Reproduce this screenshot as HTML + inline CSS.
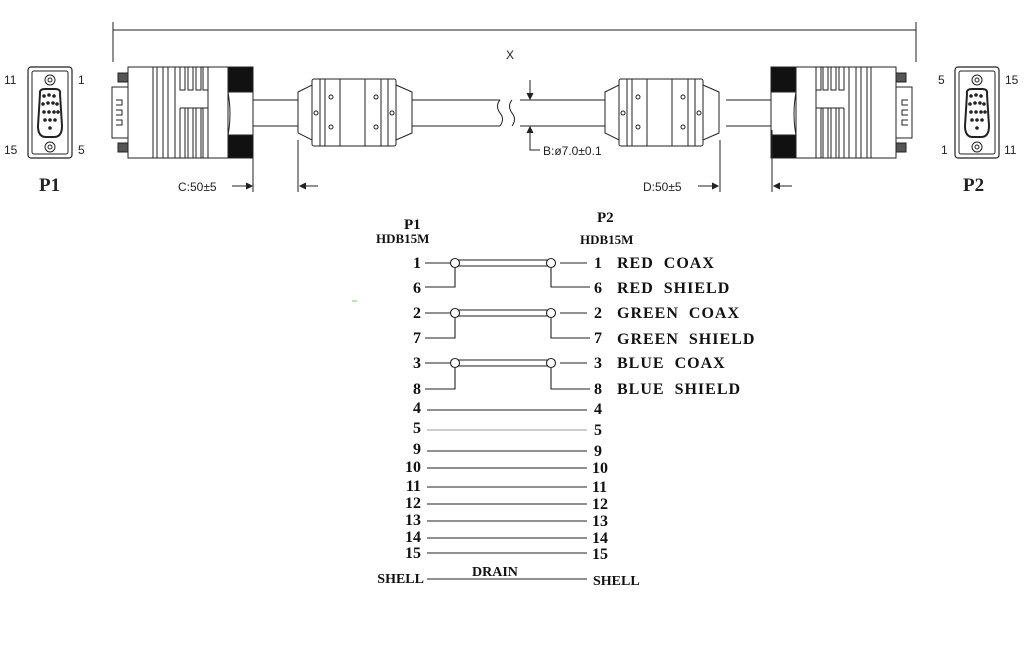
<!DOCTYPE html>
<html><head><meta charset="utf-8"><style>
html,body{margin:0;padding:0;background:#fff;}
svg{display:block;}
.s{font-family:"Liberation Sans",sans-serif;font-size:12px;fill:#222;}
.r{font-family:"Liberation Serif",serif;font-weight:bold;font-size:15px;fill:#111;}
</style></head><body>
<svg width="1024" height="658" viewBox="0 0 1024 658" xmlns="http://www.w3.org/2000/svg">
<defs>
<g id="face">
  <rect x="28" y="67" width="44" height="91" rx="3" fill="none" stroke="#222" stroke-width="1.2"/>
  <rect x="32" y="71" width="36" height="83" rx="2" fill="none" stroke="#222"/>
  <circle cx="50" cy="80" r="5" fill="none" stroke="#222"/><circle cx="50" cy="80" r="2" fill="none" stroke="#222"/>
  <circle cx="50" cy="147" r="5" fill="none" stroke="#222"/><circle cx="50" cy="147" r="2" fill="none" stroke="#222"/>
  <path d="M40 94 Q39 89 45 89 L55 89 Q61 89 60 94 L62 126 Q62 137 54 137 L46 137 Q38 137 38 126 Z" fill="none" stroke="#222" stroke-width="2"/>
  <g fill="#222">
   <circle cx="44" cy="96" r="1.8"/><circle cx="49" cy="95" r="1.8"/><circle cx="54" cy="96" r="1.8"/>
   <circle cx="43" cy="104" r="1.8"/><circle cx="48" cy="103" r="1.8"/><circle cx="53" cy="103" r="1.8"/><circle cx="57" cy="104" r="1.8"/>
   <circle cx="44" cy="112" r="1.8"/><circle cx="49" cy="112" r="1.8"/><circle cx="54" cy="112" r="1.8"/><circle cx="58" cy="112" r="1.8"/>
   <circle cx="45" cy="120" r="1.8"/><circle cx="50" cy="120" r="1.8"/><circle cx="55" cy="120" r="1.8"/>
   <circle cx="50" cy="128" r="1.8"/>
  </g>
</g>
<g id="plug" fill="#fff" stroke="#222" stroke-width="1">
  <rect x="118" y="73" width="10" height="9" fill="#555"/>
  <rect x="118" y="143" width="10" height="9" fill="#555"/>
  <rect x="112" y="87" width="16" height="51"/>
  <path d="M116 100h6v5h-6M116 110h6v5h-6M116 120h6v5h-6" fill="none"/>
  <rect x="128" y="67" width="100" height="91"/>
  <path d="M153 67v91M157 67v91M163 67v91M168 67v91M175 67v91M208 67v91" fill="none"/>
  <path d="M180 67v23h5v-23M188 67v23h5v-23M196 67v23h5v-23M203 67v23h5" fill="none"/>
  <path d="M180 108v50M185 108v50M188 108v50M193 108v50M196 108v50M201 108v50M203 108v50M180 108h28" fill="none"/>
  <rect x="228" y="67" width="25" height="25" fill="#111"/>
  <rect x="228" y="135" width="25" height="23" fill="#111"/>
  <path d="M228 92h25v43h-25 q4 -20 0 -43" fill="#fff"/>
  <path d="M253 100h45M253 126h45" fill="none"/>
</g>
<g id="ferr" fill="#fff" stroke="#222" stroke-width="1">
  <path d="M298 92 L312 85 L312 140 L298 133 Z"/>
  <path d="M396 85 L412 92 L412 133 L396 140 Z"/>
  <rect x="312" y="79" width="84" height="67" rx="2"/>
  <path d="M320 79v67M325 79v67M340 79v67M365 79v67M381 79v67M388 79v67" fill="none"/>
  <circle cx="316" cy="113" r="2"/><circle cx="392" cy="113" r="2"/>
  <circle cx="331" cy="97" r="2"/><circle cx="331" cy="127" r="2"/>
  <circle cx="376" cy="97" r="2"/><circle cx="376" cy="127" r="2"/>
</g>
</defs>

<g stroke="#222" stroke-width="1" fill="none">
  <path d="M113 22v40M916 22v40M113 30H916"/>
</g>
<text x="506" y="59" class="s">X</text>

<use href="#face"/>
<text x="4" y="84" class="s">11</text><text x="78" y="84" class="s">1</text>
<text x="4" y="154" class="s">15</text><text x="78" y="154" class="s">5</text>
<text x="39" y="191" font-family="Liberation Serif,serif" font-size="19" font-weight="bold" fill="#222">P1</text>

<use href="#face" transform="translate(927,0)"/>
<text x="938" y="84" class="s">5</text><text x="1005" y="84" class="s">15</text>
<text x="941" y="154" class="s">1</text><text x="1004" y="154" class="s">11</text>
<text x="963" y="191" font-family="Liberation Serif,serif" font-size="19" font-weight="bold" fill="#222">P2</text>

<use href="#plug"/>
<use href="#plug" transform="translate(1024,0) scale(-1,1)"/>
<use href="#ferr"/>
<use href="#ferr" transform="translate(307,0)"/>
<g stroke="#222" fill="none">
  <path d="M412 100H500M412 126H500M520 100H605M520 126H605"/>
  <path d="M500 100q-5 6 0 13q5 6 0 13M512 100q-5 6 0 13q5 6 0 13"/>
  <path d="M530 80v18M530 128v22h10"/>
  <path d="M527 93l3 6 3-6M527 133l3-6 3 6" fill="#222"/>
  <path d="M253 130v62M298 140v52M720 140v52M772 130v62"/>
  <path d="M232 186h20M300 186h18M698 186h20M774 186h18"/>
  <path d="M246 183l6 3-6 3M306 183l-6 3 6 3M712 183l6 3-6 3M780 183l-6 3 6 3" fill="#222"/>
</g>
<text x="543" y="155" class="s">B:ø7.0±0.1</text>
<text x="178" y="191" class="s">C:50±5</text>
<text x="643" y="191" class="s">D:50±5</text>

<text x="404" y="229" class="r">P1</text>
<text x="376" y="243" class="r" style="font-size:13px">HDB15M</text>
<text x="597" y="222" class="r">P2</text>
<text x="580" y="244" class="r" style="font-size:13px">HDB15M</text>

<g stroke="#222" fill="none" stroke-width="1.1">
  <path d="M425 263h25M560 263h27M455 268v19h-30M551 268v19h39"/>
  <path d="M458 260H548M458 266H548"/>
  <circle cx="455" cy="263" r="4.5" fill="#fff"/><circle cx="551" cy="263" r="4.5" fill="#fff"/>

  <path d="M425 313h25M560 313h27M455 318v20h-30M551 318v20h39"/>
  <path d="M458 310H548M458 316H548"/>
  <circle cx="455" cy="313" r="4.5" fill="#fff"/><circle cx="551" cy="313" r="4.5" fill="#fff"/>

  <path d="M425 363h25M560 363h27M455 368v21h-30M551 368v21h39"/>
  <path d="M458 360H548M458 366H548"/>
  <circle cx="455" cy="363" r="4.5" fill="#fff"/><circle cx="551" cy="363" r="4.5" fill="#fff"/>

  <path d="M427 410H587M427 451H587M427 468H587M427 487H587M427 504H587M427 521H587M427 538H587M427 553H587M427 579H587"/>
  <path d="M427 430H587" stroke="#999"/>
</g>

<g class="r" text-anchor="end" style="font-size:16px">
  <text x="421" y="268">1</text><text x="421" y="293">6</text>
  <text x="421" y="318">2</text><text x="421" y="343">7</text>
  <text x="421" y="368">3</text><text x="421" y="394">8</text>
  <text x="421" y="413">4</text><text x="421" y="433">5</text>
  <text x="421" y="454">9</text><text x="421" y="472">10</text>
  <text x="421" y="491">11</text><text x="421" y="508">12</text>
  <text x="421" y="525">13</text><text x="421" y="542">14</text>
  <text x="421" y="558">15</text>
  <text x="424" y="583" style="font-size:14px">SHELL</text>
</g>
<g class="r" style="font-size:16px">
  <text x="594" y="268">1</text><text x="594" y="293">6</text>
  <text x="594" y="318">2</text><text x="594" y="343">7</text>
  <text x="594" y="368">3</text><text x="594" y="394">8</text>
  <text x="594" y="414">4</text><text x="594" y="435">5</text>
  <text x="594" y="456">9</text><text x="592" y="473">10</text>
  <text x="592" y="492">11</text><text x="592" y="509">12</text>
  <text x="592" y="526">13</text><text x="592" y="543">14</text>
  <text x="592" y="559">15</text>
  <text x="593" y="585" style="font-size:14px">SHELL</text>
  <text x="472" y="576" style="font-size:14px">DRAIN</text>
  <text x="617" y="268" style="font-size:16px;letter-spacing:1px" xml:space="preserve">RED  COAX</text>
  <text x="617" y="293" style="font-size:16px;letter-spacing:1px" xml:space="preserve">RED  SHIELD</text>
  <text x="617" y="318" style="font-size:16px;letter-spacing:1px" xml:space="preserve">GREEN  COAX</text>
  <text x="617" y="344" style="font-size:16px;letter-spacing:1px" xml:space="preserve">GREEN  SHIELD</text>
  <text x="617" y="368" style="font-size:16px;letter-spacing:1px" xml:space="preserve">BLUE  COAX</text>
  <text x="617" y="394" style="font-size:16px;letter-spacing:1px" xml:space="preserve">BLUE  SHIELD</text>
</g>
<path d="M352 301h5" stroke="#6c6" stroke-width="1"/>
</svg>
</body></html>
